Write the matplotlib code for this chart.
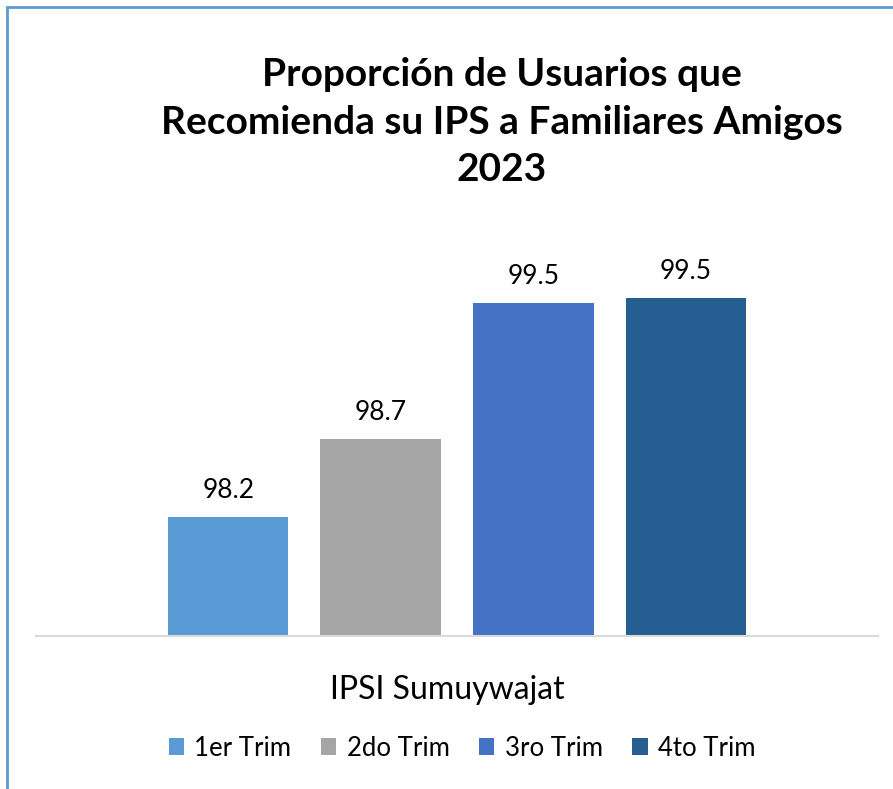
import matplotlib
matplotlib.use("Agg")
import matplotlib.pyplot as plt
from matplotlib.patches import Rectangle, Patch

# Data
categories = ["1er Trim", "2do Trim", "3ro Trim", "4to Trim"]
values = [98.2, 98.66, 99.46, 99.49]
colors = ["#5B9BD5", "#A5A5A5", "#4472C4", "#255E91"]
group_label = "IPSI Sumuywajat"
title = "Proporción de Usuarios que\nRecomienda su IPS a Familiares Amigos\n2023"

plt.rcParams['font.family'] = ['Lato', 'DejaVu Sans']

fig = plt.figure(figsize=(8.93, 7.89), dpi=100)
fig.patch.set_facecolor("white")

# border (left/top visible)
fig.add_artist(Rectangle((6.5/893, -0.05), 1.2, 1 - 6.5/789 + 0.05,
                         transform=fig.transFigure, fill=False,
                         edgecolor="#5B9BD5", linewidth=2.0))

ax = fig.add_axes([36/893, 1 - 636/789, (878 - 36)/893, (636 - 250)/789])
x = list(range(len(values)))
bars = ax.bar(x, values, width=0.79, color=colors, bottom=0)
ax.set_ylim(97.5, 97.5 + 386/170)
ax.set_xlim(-1.26, 4.26)
ax.bar_label(bars, labels=[f"{v:.1f}" for v in values], padding=10, fontsize=19)

for s in ["top", "right", "left"]:
    ax.spines[s].set_visible(False)
ax.spines["bottom"].set_color("#D9D9D9")
ax.spines["bottom"].set_linewidth(1.5)
ax.set_yticks([])
ax.set_xticks([])

fig.text(502/893, 1 - 122/789, title, ha="center", va="center",
         fontsize=28, fontweight="bold", linespacing=1.42)

fig.text(447/893, 1 - 690/789, group_label, ha="center", va="center", fontsize=23)

handles = [Patch(facecolor=c, edgecolor="none") for c in colors]
fig.legend(handles, categories, loc="center", bbox_to_anchor=(462/893, 1 - 748/789),
           ncol=4, frameon=False, fontsize=18.5, handlelength=0.6, handleheight=0.6,
           handletextpad=0.4, columnspacing=1.15)

fig.savefig("out.png", dpi=100, facecolor="white")
